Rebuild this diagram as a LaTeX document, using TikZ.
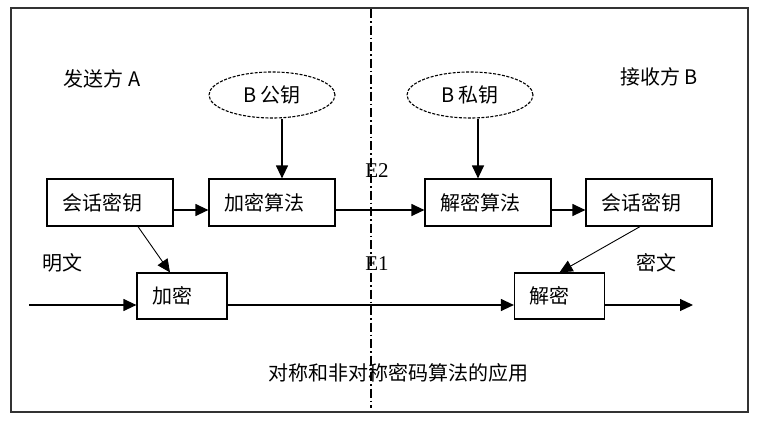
\documentclass[tikz,border=0pt]{standalone}
\usepackage{fontspec}
\newfontfamily\cjk{Noto Sans CJK SC}
\newfontfamily\ser{Liberation Serif}
\usetikzlibrary{arrows.meta,shapes.geometric}
\begin{document}
\begin{tikzpicture}[x=1pt,y=-1pt,
  every node/.style={font=\cjk\fontsize{20}{24}\selectfont, inner sep=0pt},
  lbl/.style={},
  boxA/.style={draw, line width=1.2pt, minimum height=47pt, text width=96pt, inner xsep=15pt, align=left},
  boxB/.style={draw, line width=1.2pt, minimum height=46pt, text width=60pt, inner xsep=15pt, align=left},
  keyell/.style={ellipse, draw, line width=1.1pt, dash pattern=on 3pt off 1.5pt, minimum width=126pt, minimum height=46pt},
  arr/.style={line width=1.2pt, -{Triangle[length=13pt,width=12pt]}},
  eline/.style={font=\ser\fontsize{21}{24}\selectfont}
]
\useasboundingbox (0,0) rectangle (758,421);
\fill[white] (0,0) rectangle (758,421);
\draw[line width=1.6pt, black!80] (11,8) rectangle (748,412);
\draw[line width=1.1pt, dash pattern=on 9pt off 3pt on 1.5pt off 3pt] (371,9) -- (371,408);

\node[lbl] (sendA) at (102,79) {发送方 A};
\node[lbl] (recvB) at (659,77) {接收方 B};

\node[keyell] (ekey) at (272,95) {B 公钥};
\node[keyell] (dkey) at (470,95) {B 私钥};

\node[boxA] (skA) at (110,202.5) {会话密钥};
\node[boxA] (encalg) at (272,202.5) {加密算法};
\node[boxA] (decalg) at (488,202.5) {解密算法};
\node[boxA] (skB) at (649,202.5) {会话密钥};

\node[boxB] (enc) at (182,296) {加密};
\node[boxB] (dec) at (559.5,296) {解密};

\node[lbl] (ming) at (62,263) {明文};
\node[lbl] (mi) at (656,263) {密文};
\node[eline] (e2) at (377,171) {E2};
\node[eline] (e1) at (377,264) {E1};
\node[lbl] (title) at (398,373) {对称和非对称密码算法的应用};

\coordinate (pin) at (29,305);
\coordinate (pout) at (693,305);

\draw[arr] ([xshift=10pt]ekey.south) -- ([xshift=10pt]ekey.south |- encalg.north);
\draw[arr] ([xshift=8pt]dkey.south) -- ([xshift=8pt]dkey.south |- decalg.north);

\draw[arr] ([yshift=-7.5pt]skA.east) -- ([yshift=-7.5pt]encalg.west);
\draw[arr] ([yshift=-7.5pt]encalg.east) -- ([yshift=-7.5pt]decalg.west);
\draw[arr] ([yshift=-7.5pt]decalg.east) -- ([yshift=-7.5pt]skB.west);

\draw[arr, line width=0.9pt] ([xshift=28pt]skA.south) -- ([xshift=-12pt]enc.north);
\draw[arr, line width=0.9pt] ([xshift=-9pt]skB.south) -- (dec.north);

\draw[arr] (pin) -- (pin -| enc.west);
\draw[arr] ([yshift=-9pt]enc.east) -- ([yshift=-9pt]dec.west);
\draw[arr] ([yshift=-9pt]dec.east) -- (pout);
\end{tikzpicture}
\end{document}
